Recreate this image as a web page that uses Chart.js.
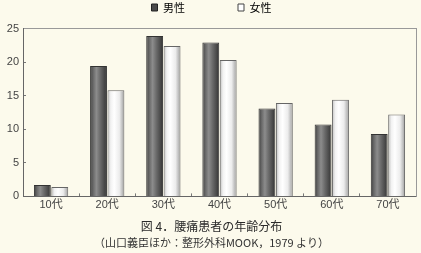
<!DOCTYPE html>
<html>
<head>
<meta charset="utf-8">
<script src="https://cdn.jsdelivr.net/npm/chart.js@4/dist/chart.umd.min.js"></script>
<style>
html,body{margin:0;padding:0;background:#fcfaec;}
#wrap{width:421px;height:253px;}
</style>
</head>
<body>
<div id="wrap"><canvas id="c" width="421" height="253"></canvas></div>
<script>
const categories = ['10代', '20代', '30代', '40代', '50代', '60代', '70代'];
const maleValues = [1.7, 19.4, 23.9, 22.9, 13.1, 10.7, 9.3];
const femaleValues = [1.4, 15.8, 22.4, 20.3, 13.9, 14.4, 12.2];
const seriesNames = ['男性', '女性'];
const yMin = 0, yMax = 25, yStep = 5;
const captionLine1 = '図 4．腰痛患者の年齢分布';
const captionLine2 = '（山口義臣ほか：整形外科MOOK，1979 より）';

const CAT_PCT = 0.62, BAR_PCT = 0.97;
const maleStops = [[0,'#3a3a3a'],[0.18,'#666'],[0.38,'#8c8c8c'],[0.6,'#6a6a6a'],[0.85,'#474747'],[1,'#2e2e2e']];
const femaleStops = [[0,'#b8b8b8'],[0.2,'#f2f2f2'],[0.4,'#ffffff'],[0.7,'#ececec'],[1,'#9a9a9a']];

function barFill(stops, side, fallback) {
  return function(ctx) {
    const chart = ctx.chart;
    const xs = chart.scales && chart.scales.x;
    if (!xs || !chart.chartArea || ctx.dataIndex === undefined) return fallback;
    const center = xs.getPixelForValue(ctx.dataIndex);
    const catW = xs.width / categories.length;
    const grp = catW * CAT_PCT;
    const left = side === 0 ? center - grp / 2 : center;
    const g = chart.ctx.createLinearGradient(left, 0, left + grp / 2, 0);
    stops.forEach(s => g.addColorStop(s[0], s[1]));
    return g;
  };
}

Chart.defaults.font.family = "'Liberation Sans','Noto Sans CJK JP',sans-serif";
Chart.defaults.color = '#444';

new Chart(document.getElementById('c'), {
  type: 'bar',
  data: {
    labels: categories,
    datasets: [
      { label: seriesNames[0], data: maleValues, backgroundColor: barFill(maleStops, 0, '#555'),
        borderColor: '#333', borderWidth: 1, categoryPercentage: CAT_PCT, barPercentage: BAR_PCT },
      { label: seriesNames[1], data: femaleValues, backgroundColor: barFill(femaleStops, 1, '#fff'),
        borderColor: '#666', borderWidth: 1, categoryPercentage: CAT_PCT, barPercentage: BAR_PCT }
    ]
  },
  options: {
    responsive: false,
    animation: false,
    layout: { padding: { top: -51, left: 7, right: 5, bottom: 2 } },
    plugins: {
      legend: {
        position: 'top',
        labels: {
          font: { size: 11, family: "'Noto Sans CJK JP',sans-serif" },
          color: '#444',
          boxWidth: 6, boxHeight: 7, padding: 53,
          generateLabels: (chart) => [
            { text: seriesNames[0], fillStyle: '#4a4a4a', strokeStyle: '#222', lineWidth: 1, datasetIndex: 0, hidden: false },
            { text: seriesNames[1], fillStyle: '#ffffff', strokeStyle: '#444', lineWidth: 1, datasetIndex: 1, hidden: false }
          ]
        }
      },
      title: {
        display: true, position: 'bottom', weight: 1000, text: captionLine1, color: '#2a2a2a',
        font: { size: 12, weight: 'normal', family: "'Noto Sans CJK JP',sans-serif" },
        padding: { top: 6, bottom: 0 }
      },
      subtitle: {
        display: true, position: 'bottom', weight: 1500, text: captionLine2, color: '#333',
        font: { size: 11, family: "'Noto Sans CJK JP',sans-serif" },
        padding: { top: 2, bottom: 2 }
      },
      tooltip: { enabled: false }
    },
    scales: {
      x: {
        type: 'category', position: 'bottom', offset: true,
        grid: { display: true, offset: true, drawOnChartArea: false, drawTicks: true, tickLength: -3, color: '#777' },
        border: { display: true, color: '#666', width: 1 },
        ticks: { padding: 4.7, font: { size: 11 }, color: '#444' },
        afterFit: (s) => { s.height = 17; }
      },
      x2: {
        type: 'category', position: 'top', offset: true,
        grid: { display: false, drawTicks: false },
        border: { display: true, color: '#999', width: 1 },
        ticks: { display: false },
        afterFit: (s) => { s.height = 5.5; }
      },
      y: {
        position: 'left', min: yMin, max: yMax,
        grid: { display: true, drawOnChartArea: false, drawTicks: true, tickLength: -3, color: '#777' },
        border: { display: true, color: '#666', width: 1 },
        ticks: { stepSize: yStep, padding: 7, font: { size: 11 }, color: '#444' },
        afterFit: (s) => { s.width = 16; }
      },
      y2: {
        position: 'right', min: yMin, max: yMax,
        grid: { display: false, drawTicks: false },
        border: { display: true, color: '#999', width: 1 },
        ticks: { display: false },
        afterFit: (s) => { s.width = 0; }
      }
    }
  }
});
</script>
</body>
</html>
